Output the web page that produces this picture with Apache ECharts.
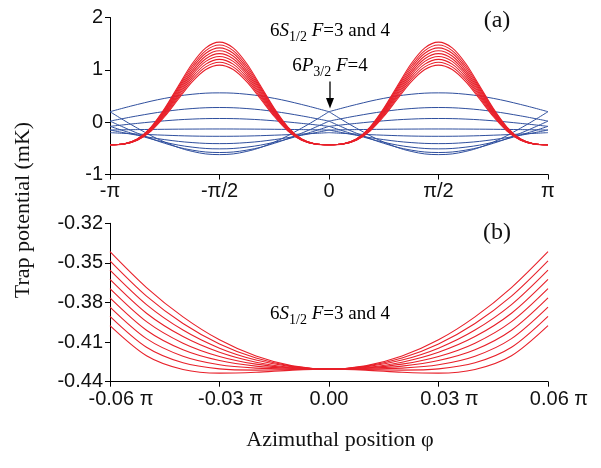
<!DOCTYPE html>
<html>
<head>
<meta charset="utf-8">
<script src="https://cdn.jsdelivr.net/npm/echarts@6/dist/echarts.min.js"></script>
<style>
  html, body { margin: 0; padding: 0; background: #fff; }
  #chart { width: 601px; height: 468px; }
</style>
</head>
<body>
<div id="chart"></div>
<script>
// Azimuthal angle samples, in units of pi
const PHI_TOP_RED = [-1, -0.9375, -0.875, -0.8125, -0.75, -0.6875, -0.625, -0.5625, -0.5,
  -0.4375, -0.375, -0.3125, -0.25, -0.1875, -0.125, -0.0625, 0,
  0.0625, 0.125, 0.1875, 0.25, 0.3125, 0.375, 0.4375, 0.5,
  0.5625, 0.625, 0.6875, 0.75, 0.8125, 0.875, 0.9375, 1];
const PHI_TOP_BLUE = [-1, -0.875, -0.75, -0.625, -0.5, -0.375, -0.25, -0.125, 0,
  0.125, 0.25, 0.375, 0.5, 0.625, 0.75, 0.875, 1];
const PHI_BOTTOM = [-0.06, -0.05, -0.04, -0.03, -0.02, -0.01, 0, 0.01, 0.02, 0.03, 0.04, 0.05, 0.06];

// 6S1/2 F=3 and 4 ground-state potentials over the full circle (mK)
const S_FULL_1 = [-0.43,-0.416,-0.32,-0.093,0.264,0.695,1.116,1.42,1.53,1.42,1.116,0.695,0.264,-0.093,-0.32,-0.416,-0.43,-0.416,-0.32,-0.093,0.264,0.695,1.116,1.42,1.53,1.42,1.116,0.695,0.264,-0.093,-0.32,-0.416,-0.43];
const S_FULL_2 = [-0.43,-0.416,-0.323,-0.102,0.244,0.664,1.073,1.368,1.475,1.368,1.073,0.664,0.244,-0.102,-0.323,-0.416,-0.43,-0.416,-0.323,-0.102,0.244,0.664,1.073,1.368,1.475,1.368,1.073,0.664,0.244,-0.102,-0.323,-0.416,-0.43];
const S_FULL_3 = [-0.43,-0.416,-0.326,-0.112,0.225,0.632,1.03,1.316,1.42,1.316,1.03,0.632,0.225,-0.112,-0.326,-0.416,-0.43,-0.416,-0.326,-0.112,0.225,0.632,1.03,1.316,1.42,1.316,1.03,0.632,0.225,-0.112,-0.326,-0.416,-0.43];
const S_FULL_4 = [-0.43,-0.417,-0.33,-0.121,0.205,0.6,0.986,1.265,1.365,1.265,0.986,0.6,0.205,-0.121,-0.33,-0.417,-0.43,-0.417,-0.33,-0.121,0.205,0.6,0.986,1.265,1.365,1.265,0.986,0.6,0.205,-0.121,-0.33,-0.417,-0.43];
const S_FULL_5 = [-0.43,-0.417,-0.333,-0.131,0.186,0.569,0.943,1.213,1.31,1.213,0.943,0.569,0.186,-0.131,-0.333,-0.417,-0.43,-0.417,-0.333,-0.131,0.186,0.569,0.943,1.213,1.31,1.213,0.943,0.569,0.186,-0.131,-0.333,-0.417,-0.43];
const S_FULL_6 = [-0.43,-0.418,-0.336,-0.14,0.167,0.537,0.9,1.161,1.255,1.161,0.9,0.537,0.167,-0.14,-0.336,-0.418,-0.43,-0.418,-0.336,-0.14,0.167,0.537,0.9,1.161,1.255,1.161,0.9,0.537,0.167,-0.14,-0.336,-0.418,-0.43];
const S_FULL_7 = [-0.43,-0.418,-0.339,-0.15,0.147,0.506,0.856,1.109,1.2,1.109,0.856,0.506,0.147,-0.15,-0.339,-0.418,-0.43,-0.418,-0.339,-0.15,0.147,0.506,0.856,1.109,1.2,1.109,0.856,0.506,0.147,-0.15,-0.339,-0.418,-0.43];
const S_FULL_8 = [-0.43,-0.418,-0.342,-0.159,0.128,0.474,0.813,1.057,1.145,1.057,0.813,0.474,0.128,-0.159,-0.342,-0.418,-0.43,-0.418,-0.342,-0.159,0.128,0.474,0.813,1.057,1.145,1.057,0.813,0.474,0.128,-0.159,-0.342,-0.418,-0.43];
const S_FULL_9 = [-0.43,-0.419,-0.345,-0.169,0.108,0.443,0.769,1.005,1.09,1.005,0.769,0.443,0.108,-0.169,-0.345,-0.419,-0.43,-0.419,-0.345,-0.169,0.108,0.443,0.769,1.005,1.09,1.005,0.769,0.443,0.108,-0.169,-0.345,-0.419,-0.43];

// 6P3/2 F=4 excited-state potentials (mK)
const P_1 = [0.2,0.338,0.455,0.533,0.56,0.533,0.455,0.338,0.2,0.338,0.455,0.533,0.56,0.533,0.455,0.338,0.2];
const P_2 = [0.2,-0.114,-0.38,-0.558,-0.62,-0.558,-0.38,-0.114,0.2,-0.114,-0.38,-0.558,-0.62,-0.558,-0.38,-0.114,0.2];
const P_3 = [0.02,0.12,0.204,0.26,0.28,0.26,0.204,0.12,0.02,0.12,0.204,0.26,0.28,0.26,0.204,0.12,0.02];
const P_4 = [0.02,-0.21,-0.404,-0.534,-0.58,-0.534,-0.404,-0.21,0.02,-0.21,-0.404,-0.534,-0.58,-0.534,-0.404,-0.21,0.02];
const P_5 = [-0.08,-0.023,0.026,0.059,0.07,0.059,0.026,-0.023,-0.08,-0.023,0.026,0.059,0.07,0.059,0.026,-0.023,-0.08];
const P_6 = [-0.08,-0.245,-0.384,-0.477,-0.51,-0.477,-0.384,-0.245,-0.08,-0.245,-0.384,-0.477,-0.51,-0.477,-0.384,-0.245,-0.08];
const P_7 = [-0.15,-0.142,-0.136,-0.132,-0.13,-0.132,-0.136,-0.142,-0.15,-0.142,-0.136,-0.132,-0.13,-0.132,-0.136,-0.142,-0.15];
const P_8 = [-0.15,-0.25,-0.334,-0.39,-0.41,-0.39,-0.334,-0.25,-0.15,-0.25,-0.334,-0.39,-0.41,-0.39,-0.334,-0.25,-0.15];
const P_9 = [-0.2,-0.227,-0.249,-0.265,-0.27,-0.265,-0.249,-0.227,-0.2,-0.227,-0.249,-0.265,-0.27,-0.265,-0.249,-0.227,-0.2];

// 6S1/2 potentials close to phi = 0 (mK)
const S_ZOOM_1 = [-0.3415,-0.3687,-0.3909,-0.4083,-0.4206,-0.428,-0.4305,-0.428,-0.4206,-0.4083,-0.3909,-0.3687,-0.3415];
const S_ZOOM_2 = [-0.3485,-0.3752,-0.3959,-0.4114,-0.4221,-0.4284,-0.4305,-0.4284,-0.4221,-0.4114,-0.3959,-0.3752,-0.3485];
const S_ZOOM_3 = [-0.3555,-0.3816,-0.4009,-0.4146,-0.4236,-0.4288,-0.4305,-0.4288,-0.4236,-0.4146,-0.4009,-0.3816,-0.3555];
const S_ZOOM_4 = [-0.3625,-0.3881,-0.4058,-0.4177,-0.4252,-0.4292,-0.4305,-0.4292,-0.4252,-0.4177,-0.4058,-0.3881,-0.3625];
const S_ZOOM_5 = [-0.3695,-0.3945,-0.4108,-0.4209,-0.4267,-0.4296,-0.4305,-0.4296,-0.4267,-0.4209,-0.4108,-0.3945,-0.3695];
const S_ZOOM_6 = [-0.3765,-0.401,-0.4158,-0.424,-0.4282,-0.43,-0.4305,-0.43,-0.4282,-0.424,-0.4158,-0.401,-0.3765];
const S_ZOOM_7 = [-0.3835,-0.4074,-0.4207,-0.4272,-0.4297,-0.4304,-0.4305,-0.4304,-0.4297,-0.4272,-0.4207,-0.4074,-0.3835];
const S_ZOOM_8 = [-0.3905,-0.4139,-0.4257,-0.4303,-0.4312,-0.4308,-0.4305,-0.4308,-0.4312,-0.4303,-0.4257,-0.4139,-0.3905];
const S_ZOOM_9 = [-0.3975,-0.4203,-0.4307,-0.4335,-0.4328,-0.4312,-0.4305,-0.4312,-0.4328,-0.4335,-0.4307,-0.4203,-0.3975];

// Tick labels
const TOP_X_LABELS = ['-π', '-π/2', '0', 'π/2', 'π'];
const BOTTOM_X_LABELS = ['-0.06 π', '-0.03 π', '0.00', '0.03 π', '0.06 π'];
const BOTTOM_Y_LABELS = ['-0.44', '-0.41', '-0.38', '-0.35', '-0.32'];

const S_TOP = [S_FULL_1, S_FULL_2, S_FULL_3, S_FULL_4, S_FULL_5, S_FULL_6, S_FULL_7, S_FULL_8, S_FULL_9];
const P_TOP = [P_1, P_2, P_3, P_4, P_5, P_6, P_7, P_8, P_9];
const S_BOTTOM = [S_ZOOM_1, S_ZOOM_2, S_ZOOM_3, S_ZOOM_4, S_ZOOM_5, S_ZOOM_6, S_ZOOM_7, S_ZOOM_8, S_ZOOM_9];

const RED = '#e8202a';
const BLUE = '#2f4f9e';
const INK = '#111';
const SANS = '"Liberation Sans", Arial, sans-serif';
const SERIF = '"Liberation Serif", "Times New Roman", serif';

function pairs(xs, ys, from, to) {
  const out = [];
  for (let k = from; k <= to; k++) out.push([xs[k], ys[k]]);
  return out;
}

const series = [];
// Excited-state curves: each has a cusp at phi = 0 and ±pi, so each half is its own line
P_TOP.forEach(function (ys) {
  [[0, 8], [8, 16]].forEach(function (r) {
    series.push({
      type: 'line', xAxisIndex: 0, yAxisIndex: 0,
      data: pairs(PHI_TOP_BLUE, ys, r[0], r[1]),
      smooth: 0.4, showSymbol: false, silent: true,
      lineStyle: { color: BLUE, width: 1 }
    });
  });
});
S_TOP.forEach(function (ys) {
  series.push({
    type: 'line', xAxisIndex: 0, yAxisIndex: 0,
    data: pairs(PHI_TOP_RED, ys, 0, ys.length - 1),
    smooth: 0.3, showSymbol: false, silent: true,
    lineStyle: { color: RED, width: 1.1 }
  });
});
S_BOTTOM.forEach(function (ys) {
  series.push({
    type: 'line', xAxisIndex: 1, yAxisIndex: 1,
    data: pairs(PHI_BOTTOM, ys, 0, ys.length - 1),
    smooth: 0.3, showSymbol: false, silent: true,
    lineStyle: { color: RED, width: 1.1 }
  });
});

const axisCommon = {
  type: 'value',
  axisLine: { show: true, onZero: false, lineStyle: { color: '#000', width: 1 } },
  axisTick: { show: true, inside: false, length: 5, lineStyle: { color: '#000', width: 1 } },
  splitLine: { show: false },
  axisLabel: { color: INK, fontFamily: SANS, fontSize: 20, showMinLabel: true, showMaxLabel: true }
};

function axis(extra, label) {
  const a = JSON.parse(JSON.stringify(axisCommon));
  Object.assign(a, extra);
  Object.assign(a.axisLabel, label);
  return a;
}

const labelRich = {
  pad: { width: 22, fontSize: 20, fontFamily: SANS, color: INK },
  t: { fontSize: 20, fontFamily: SANS, color: INK }
};

const richState = {
  n: { fontFamily: SERIF, fontSize: 19, lineHeight: 26, color: INK, verticalAlign: 'middle' },
  i: { fontFamily: SERIF, fontSize: 19, lineHeight: 26, color: INK, fontStyle: 'italic', verticalAlign: 'middle' },
  s: { fontFamily: SERIF, fontSize: 14, lineHeight: 14, color: INK, verticalAlign: 'bottom' }
};

const option = {
  animation: false,
  backgroundColor: '#fff',
  grid: [
    { left: 110, top: 17.5, width: 438, height: 157 },
    { left: 110, top: 223.3, width: 438, height: 158.4 }
  ],
  xAxis: [
    axis({ gridIndex: 0, min: -1, max: 1, interval: 0.5 }, {
      margin: 7,
      formatter: function (v) { return TOP_X_LABELS[Math.round((v + 1) * 2)]; }
    }),
    axis({ gridIndex: 1, min: -0.06, max: 0.06, interval: 0.03 }, {
      margin: 8,
      rich: labelRich,
      formatter: function (v) {
        const s = BOTTOM_X_LABELS[Math.round((v + 0.06) / 0.03)];
        return s.indexOf('π') >= 0 ? '{pad|}{t|' + s + '}' : '{t|' + s + '}';
      }
    })
  ],
  yAxis: [
    axis({ gridIndex: 0, min: -1, max: 2, interval: 1 }, { margin: 7 }),
    axis({ gridIndex: 1, min: -0.44, max: -0.32, interval: 0.03 }, {
      margin: 7,
      formatter: function (v) { return BOTTOM_Y_LABELS[Math.round((v + 0.44) / 0.03)]; }
    })
  ],
  series: series,
  // State labels, arrow, panel letters and axis titles
  graphic: [
    { type: 'text', x: 330, y: 31, style: { text: '{n|6}{i|S}{s|1/2}{n| }{i|F}{n|=3 and 4}', rich: richState, align: 'center', verticalAlign: 'middle' } },
    { type: 'text', x: 330, y: 66, style: { text: '{n|6}{i|P}{s|3/2}{n| }{i|F}{n|=4}', rich: richState, align: 'center', verticalAlign: 'middle' } },
    { type: 'text', x: 330, y: 314, style: { text: '{n|6}{i|S}{s|1/2}{n| }{i|F}{n|=3 and 4}', rich: richState, align: 'center', verticalAlign: 'middle' } },
    { type: 'line', shape: { x1: 330, y1: 81.5, x2: 330, y2: 100 }, style: { stroke: '#000', lineWidth: 1.3 } },
    { type: 'polygon', shape: { points: [[326, 98], [334, 98], [330, 108.5]] }, style: { fill: '#000' } },
    { type: 'text', x: 497, y: 21, style: { text: '(a)', font: '24px ' + SERIF, fill: INK, align: 'center', verticalAlign: 'middle' } },
    { type: 'text', x: 497, y: 233, style: { text: '(b)', font: '24px ' + SERIF, fill: INK, align: 'center', verticalAlign: 'middle' } },
    { type: 'text', x: 340, y: 440, style: { text: 'Azimuthal position φ', font: '22px ' + SERIF, fill: INK, align: 'center', verticalAlign: 'middle' } },
    { type: 'text', x: 23, y: 210, rotation: Math.PI / 2, style: { text: 'Trap potential (mK)', font: '22px ' + SERIF, fill: INK, align: 'center', verticalAlign: 'middle' } }
  ]
};

const chart = echarts.init(document.getElementById('chart'), null, { renderer: 'canvas' });
chart.setOption(option);
</script>
</body>
</html>
